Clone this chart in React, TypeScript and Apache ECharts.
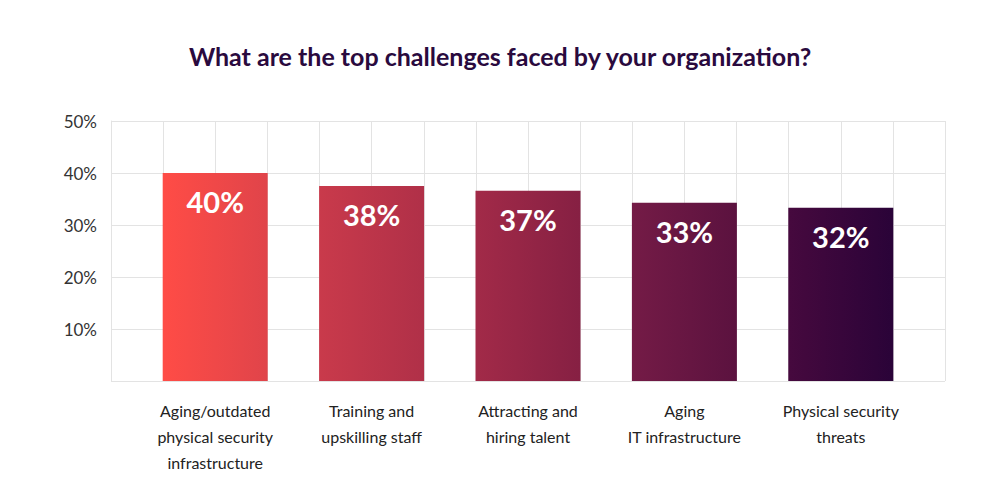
import React, { FC, useEffect, useRef } from "react";
import * as echarts from "echarts";

const categories = [
  "Aging/outdated\nphysical security\ninfrastructure",
  "Training and\nupskilling staff",
  "Attracting and\nhiring talent",
  "Aging\nIT infrastructure",
  "Physical security\nthreats",
];
const barValues = [40, 37.5, 36.6, 34.3, 33.3];
const valueLabels = ["40%", "38%", "37%", "33%", "32%"];
const barColors = [
  ["#ff4c46", "#e0444a"],
  ["#c93a4b", "#b03048"],
  ["#a22a48", "#862043"],
  ["#741b46", "#5b123f"],
  ["#46093e", "#2a0338"],
];

const App: FC = () => {
  const ref = useRef<HTMLDivElement>(null);
  useEffect(() => {
    const chart = echarts.init(ref.current, null, { renderer: "svg" });
    const grid = { top: 121, bottom: 105 };
    chart.setOption({
      animation: false,
      title: {
        text: "What are the top challenges faced by your organization?",
        left: "center",
        top: 38,
        textStyle: { fontFamily: "Lato", fontSize: 25, fontWeight: "bold", color: "#2a0a3e" },
      },
      grid: [
        { ...grid, left: 111, right: 55 },
        { ...grid, left: 137, right: 81 },
      ],
      xAxis: [
        {
          type: "value",
          gridIndex: 0,
          min: 0,
          max: 16,
          interval: 1,
          axisLabel: { show: false },
          axisLine: { show: false },
          axisTick: { show: false },
          splitLine: { show: true, lineStyle: { color: "#e3e3e3" } },
        },
        {
          type: "category",
          gridIndex: 1,
          data: categories,
          axisLine: { show: false },
          axisTick: { show: false },
          axisLabel: {
            margin: 16,
            fontFamily: "Lato",
            fontSize: 16,
            lineHeight: 26,
            color: "#222",
          },
        },
      ],
      yAxis: [
        {
          type: "value",
          gridIndex: 0,
          min: 0,
          max: 50,
          interval: 10,
          axisLine: { show: true, lineStyle: { color: "#e3e3e3" } },
          axisTick: { show: false },
          splitLine: { show: true, lineStyle: { color: "#e3e3e3" } },
          axisLabel: {
            margin: 14,
            fontFamily: "Lato",
            fontSize: 17,
            color: "#333",
            formatter: (v: number) => (v === 0 ? "" : v + "%"),
          },
        },
        {
          type: "value",
          gridIndex: 1,
          min: 0,
          max: 50,
          interval: 10,
          axisLabel: { show: false },
          axisLine: { show: false },
          axisTick: { show: false },
          splitLine: { show: false },
        },
      ],
      series: [
        {
          type: "bar",
          xAxisIndex: 1,
          yAxisIndex: 1,
          barWidth: 105,
          data: barValues.map((v, i) => ({
            value: v,
            itemStyle: {
              color: new echarts.graphic.LinearGradient(0, 0, 1, 0, [
                { offset: 0, color: barColors[i][0] },
                { offset: 1, color: barColors[i][1] },
              ]),
            },
          })),
          label: {
            show: true,
            position: "insideTop",
            distance: 14,
            formatter: (p: any) => valueLabels[p.dataIndex],
            fontFamily: "Lato",
            fontSize: 29,
            fontWeight: "bold",
            color: "#fff",
          },
        },
      ],
    });
    return () => chart.dispose();
  }, []);
  return <div ref={ref} style={{ width: 1000, height: 486, margin: -8 }} />;
};

export default App;
